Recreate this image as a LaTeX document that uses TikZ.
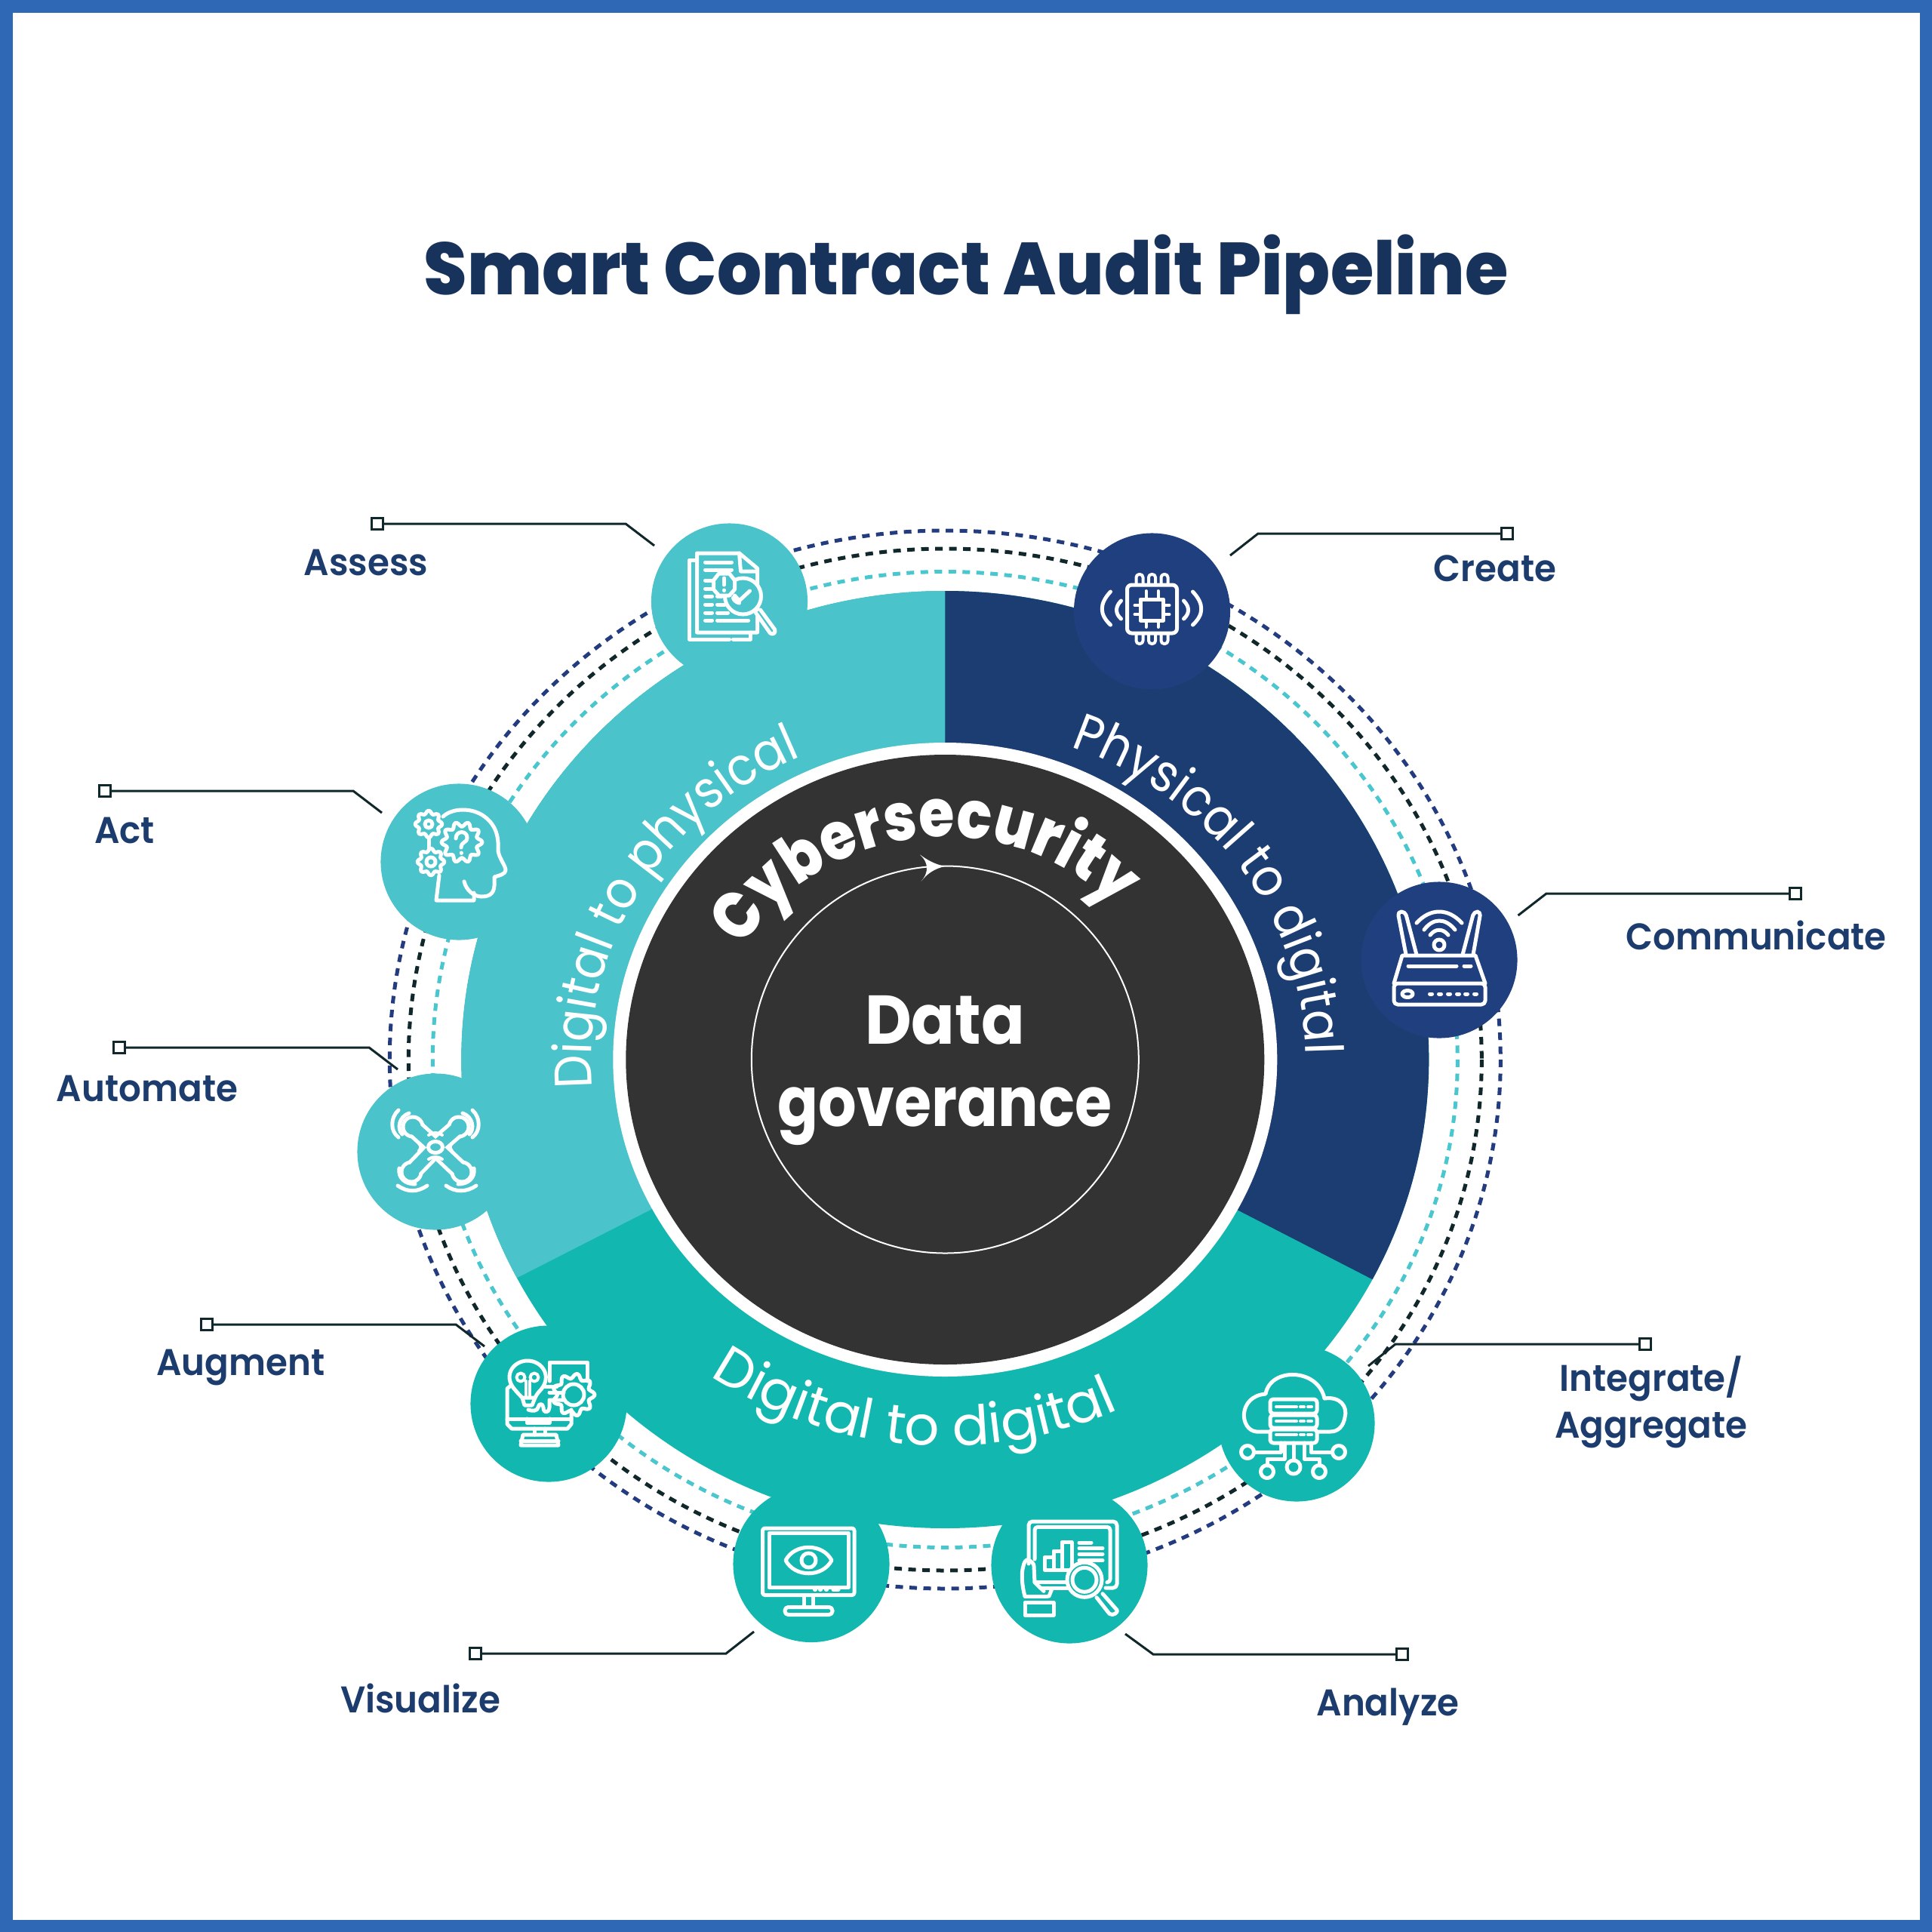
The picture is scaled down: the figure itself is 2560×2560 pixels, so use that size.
\documentclass[tikz,border=0pt]{standalone}
\usepackage{fontspec}
\usetikzlibrary{decorations.text}
\setmainfont{Poppins}
\newfontfamily\popT[FakeStretch=0.95]{Poppins ExtraBold}
\newfontfamily\popX[FakeStretch=0.87]{Poppins ExtraBold}
\newfontfamily\popB[FakeStretch=0.93]{Poppins Bold}
\newfontfamily\popG[FakeStretch=0.87]{Poppins Bold}
\newfontfamily\popS[FakeStretch=0.95]{Poppins SemiBold}
\newfontfamily\popR{Poppins}
\newfontfamily\popN[FakeStretch=0.9]{Poppins}
\newcommand\fsz[1]{\fontsize{#1}{#1}\selectfont}
\definecolor{frameblue}{HTML}{2F69B5}
\definecolor{lightteal}{HTML}{4AC3CB}
\definecolor{greenteal}{HTML}{12B8B0}
\definecolor{ringnavy}{HTML}{1B3D72}
\definecolor{circnavy}{HTML}{203F7E}
\definecolor{dashnavy}{HTML}{233C7F}
\definecolor{dashblack}{HTML}{10272B}
\definecolor{dashteal}{HTML}{4AC6CF}
\definecolor{coredark}{HTML}{333333}
\definecolor{titleblue}{HTML}{17335C}
\definecolor{labelblue}{HTML}{1D3C6E}
\tikzset{
  dashring/.style={line width=0.05cm,dash pattern=on 0.1cm off 0.085cm},
  badge/.style={circle,minimum size=2.07cm,inner sep=0pt,draw=none},
  ico/.style={draw=white,line width=0.05cm,line cap=round,line join=round},
  icofine/.style={draw=white,line width=0.04cm,line cap=round,line join=round},
  leader/.style={draw=dashblack,line width=0.03cm},
  endbox/.style={draw=dashblack,fill=white,line width=0.03cm,rectangle,minimum size=0.15cm,inner sep=0pt},
  lab/.style={text=labelblue,font=\popS\fsz{14pt},align=center,inner sep=0pt},
}
\newcommand\gearico[4]{%
  \pgfmathsetmacro\gE{360-360/(6*#4)}%
  \pgfmathtruncatemacro\gS{6*#4}%
  \begin{scope}[shift={(#1,#2)}]
  \draw[ico] plot[smooth cycle,domain=0:\gE,samples=\gS] (\x:{#3*(0.88+0.12*cos(#4*\x))});
  \end{scope}}
\begin{document}
\begin{tikzpicture}[x=0.01cm,y=-0.01cm]
\useasboundingbox (0,0) rectangle (2560,2560);
\fill[frameblue] (0,0) rectangle (2560,2560);
\fill[white] (16.5,16.5) rectangle (2543.5,2543.5);
\coordinate (ctr) at (1252.3,1404);

% dashed rings
\draw[dashring,dashnavy] (ctr) ellipse [x radius=736,y radius=701];
\draw[dashring,dashblack] (ctr) ellipse [x radius=711,y radius=677];
\draw[dashring,dashteal] (ctr) ellipse [x radius=679,y radius=646.5];

% coloured ring
\fill[greenteal] (ctr) ellipse [x radius=641,y radius=621];
\begin{scope}
\clip (ctr) ellipse [x radius=641,y radius=621];
\fill[lightteal] (ctr) -- (1252.3,600) -- (403,600) -- (403,1837) -- cycle;
\fill[ringnavy] (ctr) -- (1252.3,600) -- (2100,600) -- (2100,1840) -- cycle;
\end{scope}
\fill[white] (ctr) ellipse [x radius=440,y radius=420];
\fill[coredark] (ctr) ellipse [x radius=423,y radius=404];
\draw[white,line width=0.02cm] (ctr) circle [radius=256.5];
\fill[white] (1252,1148) .. controls (1238,1151) and (1228,1158) .. (1220.5,1168) .. controls (1227,1160) and (1228,1155) .. (1228,1150) .. controls (1228,1145) and (1226,1139) .. (1219,1132.5) .. controls (1228,1139) and (1238,1145) .. (1252,1148) -- cycle;

% curved texts
\path[decorate,decoration={text along path,text align=center,
  text={|\color{white}\popX\fsz{25pt}|Cybersecurity}}]
  (ctr) ++(-175:310 and 295) arc [start angle=-175,end angle=-18,x radius=310,y radius=295];
\path[decorate,decoration={text along path,text align=center,
  text={|\color{white}\popN\fsz{19.8pt}|Physical to digital}}]
  (ctr) ++(-90:478 and 442) arc [start angle=-90,end angle=21,x radius=478,y radius=442];
\path[decorate,decoration={text along path,text align=center,
  text={|\color{white}\popN\fsz{19.8pt}|Digital to physical}}]
  (ctr) ++(155:469 and 440) arc [start angle=155,end angle=265,x radius=469,y radius=440];
\path[decorate,decoration={text along path,text align=center,
  text={|\color{white}\popR\fsz{20.6pt}|Digital to digital}}]
  (ctr) ++(140:540 and 512) arc [start angle=140,end angle=50,x radius=540,y radius=512];

% titles
\node[inner sep=0pt,text=titleblue,font=\popT\fsz{27.8pt}] (title) at (1280,364) {Smart Contract Audit Pipeline};
\node[inner sep=0pt,anchor=base,text=white,font=\popB\fsz{26pt}] (dataT) at (1252,1383) {Data};
\node[inner sep=0pt,anchor=base,text=white,font=\popG\fsz{26pt}] (govT) at (1252,1492) {goverance};

% badges
\node[badge,fill=lightteal] (assess) at (966.5,797) {};
\node[badge,fill=circnavy] (create) at (1526.5,810) {};
\node[badge,fill=circnavy] (comm) at (1907,1272) {};
\node[badge,fill=greenteal] (integ) at (1718,1886) {};
\node[badge,fill=greenteal] (analyze) at (1417,2074) {};
\node[badge,fill=greenteal] (visual) at (1075,2072.5) {};
\node[badge,fill=greenteal] (augment) at (727,1860) {};
\node[badge,fill=lightteal] (automate) at (577,1526) {};
\node[badge,fill=lightteal] (act) at (608,1142) {};

% icon: assess
\begin{scope}[shift={(assess.center)}]
\draw[ico,fill=lightteal] (-43,-64) -- (13,-64) -- (37,-44) -- (37,41) -- (-43,41) -- cycle;
\draw[ico] (13,-64) -- (15,-40) -- (37,-40);
\draw[ico] (-43,-55) -- (-53,-55) -- (-53,50) -- (0,50);
\draw[ico] (5,50) -- (28,50) -- (28,41);
\draw[ico] (-32,-52) -- (3,-52);
\draw[ico] (-32,-42) -- (3,-42);
\foreach \yy in {-28,-17,-7,4,15,25} \draw[ico] (-32,\yy) -- (-23,\yy);
\draw[ico] (-16,-7) -- (-10,-7);
\draw[ico] (-16,4) -- (-6,4);
\draw[ico] (-16,15) -- (-2,15);
\draw[ico] (-16,25) -- (25,25);
\draw[ico,fill=lightteal] (18,-7) circle [radius=24];
\draw[ico] (5,-5) .. controls (5,-3) and (8,1) .. (13,2);
\draw[ico] (7,-8) -- (13,-1) -- (27,-14);
\draw[ico,fill=lightteal] (35,15) -- (54,42) .. controls (58,45) and (62,41) .. (60,37) -- (41,11);
\draw[ico,fill=lightteal] (-14,-37) -- (0,-37) -- (7,-28) -- (7,-16) -- (0,-8) -- (-14,-8) -- (-21,-16) -- (-21,-28) -- cycle;
\draw[ico] (-7,-31) -- (-7,-22);
\draw[ico] (-7,-15) -- (-7,-14.5);
\end{scope}

% icon: create
\begin{scope}[shift={(create.center)}]
\draw[ico,rounded corners=0.06cm] (-33,-35) rectangle (33,29);
\draw[ico] (-15.5,-16) rectangle (15,12);
\foreach \xx in {-16.5,0,16.5} {
  \draw[icofine,rounded corners=0.04cm] (\xx-4.5,-35) -- (\xx-4.5,-49) -- (\xx+4.5,-49) -- (\xx+4.5,-35);
  \draw[icofine,rounded corners=0.04cm] (\xx-4.5,29) -- (\xx-4.5,43) -- (\xx+4.5,43) -- (\xx+4.5,29);
}
\foreach \xx in {-8,8} {
  \draw[icofine] (\xx,-27) -- (\xx,-16);
  \draw[icofine] (\xx,12) -- (\xx,21);
}
\foreach \yy in {-8,4} {
  \draw[icofine] (-23,\yy) -- (-15.5,\yy);
  \draw[icofine] (15,\yy) -- (23,\yy);
}
\draw[ico] (-55,-26) .. controls (-70,-10) and (-70,4) .. (-55,18);
\draw[ico] (-41,-14) .. controls (-49,-6) and (-49,3) .. (-41,10);
\draw[ico] (54,-26) .. controls (69,-10) and (69,4) .. (54,18);
\draw[ico] (42,-14) .. controls (50,-6) and (50,3) .. (42,10);
\end{scope}

% icon: communicate
\begin{scope}[shift={(comm.center)}]
\draw[ico,rounded corners=0.05cm] (-60,31) rectangle (61,59);
\draw[ico] (-60,31) -- (-49,-6) -- (48,-6) -- (61,31);
\draw[ico,rounded corners=0.05cm] (-44,-7) -- (-55,-64) -- (-45,-64) -- (-30,-7);
\draw[ico,rounded corners=0.05cm] (31,-7) -- (46,-64) -- (55,-64) -- (45,-7);
\draw[ico] (0,-20) circle [radius=7];
\draw[ico] (-12,-33) .. controls (-5,-42) and (5,-42) .. (12,-33);
\draw[ico] (-20,-40) .. controls (-8,-56) and (8,-56) .. (21,-40);
\draw[ico] (-30,-49) .. controls (-12,-69) and (12,-69) .. (30,-49);
\draw[ico] (-41,8) -- (23,8);
\draw[ico] (33,8) -- (42,8);
\draw[ico] (-42,45) ellipse [x radius=7,y radius=4.5];
\foreach \xx in {-11,1,13,25,36,48} \draw[ico] (\xx-1.5,45) -- (\xx+1.5,45);
\end{scope}

% icon: integrate
\begin{scope}[shift={(integ.center)}]
\draw[ico] (-36,11) -- (-53,11) .. controls (-76,9) and (-78,-36) .. (-41,-39) .. controls (-35,-74) and (28,-74) .. (37,-33) .. controls (58,-36) and (68,-22) .. (64,-8) .. controls (62,4) and (55,11) .. (45,11) -- (29,11);
\draw[ico,rounded corners=0.04cm] (-35,-32) rectangle (27,-13);
\draw[ico,rounded corners=0.04cm] (-35,-11) rectangle (27,6);
\draw[ico,rounded corners=0.04cm] (-35,8) rectangle (27,26);
\foreach \yy in {-22,-3,15} {
  \draw[icofine] (-27,\yy) -- (0,\yy);
  \draw[icofine] (5,\yy) -- (10,\yy);
  \draw[icofine] (15,\yy) -- (20,\yy);
}
\draw[ico] (-4,26) -- (-4,49);
\draw[ico] (-4,58) circle [radius=9];
\draw[ico] (-21,26) -- (-21,38) -- (-56,38);
\draw[ico] (-65,38) circle [radius=8.5];
\draw[ico] (-16,26) -- (-16,47) -- (-39,47) -- (-39,56);
\draw[ico] (-39,64) circle [radius=8.5];
\draw[ico] (19,26) -- (19,38) -- (47,38);
\draw[ico] (56,38) circle [radius=8.5];
\draw[ico] (10,26) -- (10,47) -- (30,47) -- (30,56);
\draw[ico] (30,64) circle [radius=8.5];
\end{scope}

% icon: analyze
\begin{scope}[shift={(analyze.center)}]
\draw[ico,rounded corners=0.05cm] (-54,-2) -- (-54,-58) -- (63,-58) -- (63,30) -- (48,30);
\draw[ico,rounded corners=0.04cm] (-46,-8) -- (-46,-50.7) -- (54,-50.7) -- (54,22.7) -- (50,22.7);
\draw[ico] (-46,22.7) -- (-4,22.7);
\draw[ico] (-38,30) -- (-2,30);
\draw[ico] (-33,-10.7) rectangle (-21,6);
\draw[ico] (-21,-19) rectangle (-10,6);
\draw[ico] (-10,-30.7) rectangle (3,6);
\draw[ico] (13,-30) -- (29,-30);
\draw[ico] (13,-22.3) -- (44,-22.3);
\draw[ico] (13,-14.7) -- (44,-14.7);
\draw[ico] (13,-6.3) -- (44,-6.3);
\draw[ico,fill=greenteal] (20,19.3) circle [radius=23];
\draw[ico] (20,19.3) circle [radius=16];
\draw[ico] (36,42.7) -- (53,64.3) .. controls (58,68) and (65,62) .. (63,59.3) -- (44,37.7);
\draw[ico] (-59,41) .. controls (-63,27) and (-64,10) .. (-61,1) .. controls (-60,-5) and (-57,-7.3) .. (-55,-7.3) .. controls (-50,-5) and (-47,-2) .. (-47,1) -- (-46,22.7) -- (-34,34.3);
\draw[ico] (-23,31) -- (-27,41);
\draw[ico] (-59,41) -- (-29,41);
\draw[ico] (-59,49.3) rectangle (-21,66);
\end{scope}

% icon: visualize
\begin{scope}[shift={(visual.center)}]
\draw[ico,rounded corners=0.03cm] (-64.5,-47.5) rectangle (57,41);
\draw[ico] (-56,-41) rectangle (49,31);
\draw[ico] (-34,-5) .. controls (-22,-28) and (15,-28) .. (27,-5) .. controls (15,18) and (-22,18) .. (-34,-5) -- cycle;
\draw[ico] (-3.5,-5) circle [radius=9.5];
\foreach \xx in {5,12,20} \draw[ico] (\xx-.5,33.5) -- (\xx+.5,33.5);
\draw[ico] (29,33.5) -- (36,33.5);
\draw[ico] (-10,41) -- (-10,57);
\draw[ico] (2,41) -- (2,57);
\draw[ico,rounded corners=0.045cm] (-35,57) rectangle (28,67);
\end{scope}

% icon: augment
\begin{scope}[shift={(augment.center)}]
\draw[ico] (-45,-19) -- (-49,-25) -- (-55,-20) -- (-55,27) -- (-49,33) -- (25,33) -- (30,27) -- (30,8);
\draw[ico] (-55,20) -- (30,20);
\draw[ico] (-29,20) -- (-29,25) -- (1,25) -- (1,20);
\draw[icofine] (-20,20) -- (-20,25);
\draw[icofine] (-9,20) -- (-9,25);
\draw[ico] (-19,33) -- (-19,41);
\draw[ico] (-5,33) -- (-5,41);
\draw[ico] (-37,55) -- (-34,41) -- (10,41) -- (13,55) -- cycle;
\draw[ico] (-37,49) -- (13,49);
\draw[ico] (1,-30) -- (1,-55) -- (51,-55) -- (51,-30);
\draw[ico,fill=greenteal] (-45,-19) .. controls (-61,-37) and (-47,-57) .. (-28,-57) .. controls (-9,-57) and (5,-37) .. (-10,-19) .. controls (-15,-14) and (-17,-10) .. (-18,-8) -- (-35,-8) .. controls (-37,-10) and (-41,-14) .. (-45,-19) -- cycle;
\draw[icofine] (-37,-35) circle [radius=5.5];
\draw[icofine] (-19,-35) circle [radius=5.5];
\draw[icofine] (-30,-30) -- (-30,-9);
\draw[icofine] (-25,-30) -- (-25,-9);
\draw[ico] (-35,-8) -- (-32,2) -- (-22,2) -- (-18,-8);
\gearico{33}{-12}{28}{9}
\draw[ico] (33,-12) circle [radius=14];
\draw[ico] (-5,-23) -- (11,-23);
\draw[ico] (1,-15) -- (20,-15);
\draw[ico] (20,-5) -- (1,-5) -- (1,5) .. controls (0,13) and (-7,13) .. (-7,5) .. controls (-8,-1) and (-13,-1) .. (-14,5) .. controls (-15,10) and (-22,10) .. (-27,8);
\end{scope}

% icon: automate
\begin{scope}[shift={(automate.center)}]
\foreach \xa/\ya in {-30/-33,31/-33,-32/27,35/27} {
  \draw[white,line width=0.26cm,line cap=round] (0,-6) -- (\xa,\ya);
  \fill[white] (\xa,\ya) circle [radius=15.5];
}
\foreach \xa/\ya in {-30/-33,31/-33,-32/27,35/27} {
  \draw[lightteal,line width=0.16cm,line cap=round] (0,-6) -- (\xa,\ya);
  \fill[lightteal] (\xa,\ya) circle [radius=10.5];
}
\draw[ico] (0,-6) ellipse [x radius=9.5,y radius=7.5];
\draw[ico] (-49,-19) .. controls (-60,-27) and (-60,-45) .. (-49,-55);
\draw[ico] (49,-19) .. controls (60,-27) and (60,-45) .. (49,-55);
\draw[ico] (-50,45) .. controls (-37,54) and (-24,54) .. (-11,45);
\draw[ico] (14,45) .. controls (26,54) and (41,54) .. (54,45);
\draw[ico] (-35,-51) .. controls (-49,-46) and (-51,-30) .. (-44,-23);
\draw[ico] (36,-51) .. controls (50,-46) and (52,-30) .. (45,-23);
\draw[ico] (-48,22) .. controls (-50,35) and (-40,43) .. (-27,43);
\draw[ico] (51,22) .. controls (53,35) and (43,43) .. (30,43);
\draw[icofine] (-9,-22) .. controls (-4,-26) and (4,-26) .. (9,-22);
\draw[icofine] (-9,10) .. controls (-4,6) and (4,6) .. (9,10);
\draw[icofine] (-22,-11) .. controls (-19,-8) and (-19,-4) .. (-22,-1);
\draw[icofine] (22,-11) .. controls (19,-8) and (19,-4) .. (22,-1);
\end{scope}

% icon: act
\begin{scope}[shift={(act.center)}]
\draw[ico] (-21,-60) .. controls (-8,-72) and (18,-72) .. (34,-60) .. controls (50,-48) and (53,-32) .. (52,-15) .. controls (53,-5) and (62,5) .. (62,11) .. controls (62,16) and (54,18) .. (47,20) -- (47,32) .. controls (46,44) and (38,46) .. (30,46) .. controls (20,46) and (10,38) .. (7,26);
\draw[ico] (20,41) -- (20,51) -- (-30,51) -- (-26,18);
\gearico{4}{-26}{27}{10}
\gearico{-40}{-50}{18}{8}
\gearico{-37}{0}{18}{8}
\draw[ico] (-40,-50) circle [radius=5];
\draw[ico] (-37,0) circle [radius=6];
\draw[ico] (-40,-32) -- (-40,-18);
\draw[ico] (-4,-31) .. controls (-4,-42) and (11,-42) .. (11,-32) .. controls (11,-25) and (3,-27) .. (3,-19);
\draw[ico] (3,-12) -- (3,-11.5);
\end{scope}

% leaders
\node[endbox] (boxAssess) at (499.6,694) {};
\coordinate (bendAssess) at (829,694); \coordinate (endAssess) at (867,723);
\draw[leader] (boxAssess) -- (bendAssess) -- (endAssess);
\node[endbox] (boxCreate) at (1997,707) {};
\coordinate (bendCreate) at (1667,707); \coordinate (endCreate) at (1630,736);
\draw[leader] (boxCreate) -- (bendCreate) -- (endCreate);
\node[endbox] (boxComm) at (2379,1184) {};
\coordinate (bendComm) at (2049,1184); \coordinate (endComm) at (2011.5,1213);
\draw[leader] (boxComm) -- (bendComm) -- (endComm);
\node[endbox] (boxInteg) at (2180,1781) {};
\coordinate (bendInteg) at (1849,1781); \coordinate (endInteg) at (1813,1810);
\draw[leader] (boxInteg) -- (bendInteg) -- (endInteg);
\node[endbox] (boxAnalyze) at (1858,2192) {};
\coordinate (bendAnalyze) at (1528,2192); \coordinate (endAnalyze) at (1491,2165);
\draw[leader] (boxAnalyze) -- (bendAnalyze) -- (endAnalyze);
\node[endbox] (boxVisual) at (630,2191) {};
\coordinate (bendVisual) at (962,2191); \coordinate (endVisual) at (999,2162);
\draw[leader] (boxVisual) -- (bendVisual) -- (endVisual);
\node[endbox] (boxAugment) at (274,1755) {};
\coordinate (bendAugment) at (604,1755); \coordinate (endAugment) at (642,1784);
\draw[leader] (boxAugment) -- (bendAugment) -- (endAugment);
\node[endbox] (boxAutomate) at (158,1388) {};
\coordinate (bendAutomate) at (489,1388); \coordinate (endAutomate) at (527,1417);
\draw[leader] (boxAutomate) -- (bendAutomate) -- (endAutomate);
\node[endbox] (boxAct) at (139,1048) {};
\coordinate (bendAct) at (468,1048); \coordinate (endAct) at (506,1077);
\draw[leader] (boxAct) -- (bendAct) -- (endAct);

% labels
\node[lab] (labAssess) at (485,746) {Assess};
\node[lab] (labCreate) at (1981,753) {Create};
\node[lab] (labComm) at (2327,1239) {Communicate};
\node[lab] (labInteg1) at (2188,1827) {Integrate/};
\node[lab] (labInteg2) at (2188,1895) {Aggregate};
\node[lab] (labAnalyze) at (1839,2262) {Analyze};
\node[lab] (labVisual) at (557,2250) {Visualize};
\node[lab] (labAugment) at (319,1812) {Augment};
\node[lab] (labAutomate) at (195,1442) {Automate};
\node[lab] (labAct) at (165,1100) {Act};
\end{tikzpicture}
\end{document}
